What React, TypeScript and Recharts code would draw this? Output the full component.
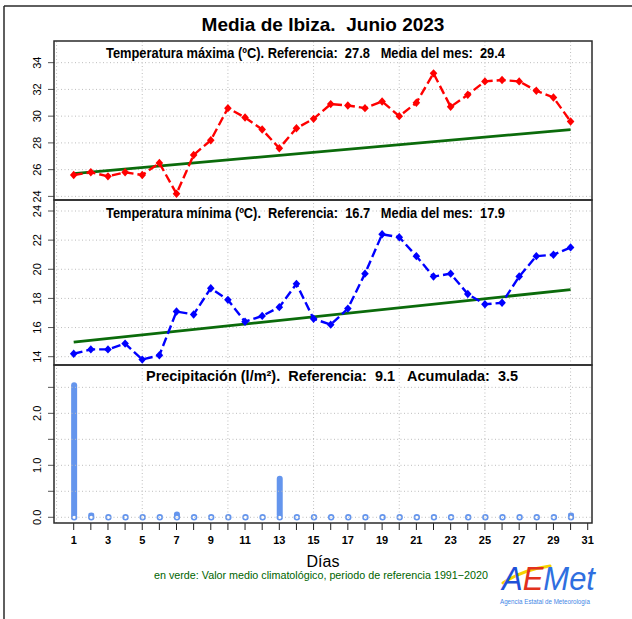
import {
  Bar,
  ComposedChart,
  Line,
  ReferenceLine,
  XAxis,
  YAxis,
} from 'recharts'

// Ibiza, June 2023: daily values.
const DAYS = [
  1, 2, 3, 4, 5, 6, 7, 8, 9, 10, 11, 12, 13, 14, 15,
  16, 17, 18, 19, 20, 21, 22, 23, 24, 25, 26, 27, 28, 29, 30,
]
const TMAX = [
  25.6, 25.8, 25.5, 25.8, 25.6, 26.5, 24.2, 27.1, 28.2, 30.6,
  29.9, 29.0, 27.6, 29.1, 29.8, 30.9, 30.8, 30.6, 31.1, 30.0,
  31.0, 33.2, 30.7, 31.6, 32.6, 32.7, 32.6, 31.9, 31.4, 29.6,
]
const TMIN = [
  14.2, 14.5, 14.5, 14.9, 13.8, 14.1, 17.1, 16.9, 18.7, 17.9,
  16.4, 16.8, 17.4, 19.0, 16.6, 16.2, 17.3, 19.7, 22.4, 22.2,
  20.9, 19.5, 19.7, 18.3, 17.6, 17.7, 19.5, 20.9, 21.0, 21.5,
]
// "Ip" (inapreciable) days are drawn as a tiny stub
const PRECIP = [
  2.6, 0.09, 0, 0, 0, 0, 0.11, 0, 0, 0,
  0, 0, 0.8, 0, 0, 0, 0, 0, 0, 0,
  0, 0, 0, 0, 0, 0, 0, 0, 0, 0.09,
]
// climatological reference 1991-2020 (straight line, first and last day)
const TMAX_REF = [25.7, 29.0]
const TMIN_REF = [15.0, 18.6]

const X_TICKS = [
  1, 2, 3, 4, 5, 6, 7, 8, 9, 10, 11, 12, 13, 14, 15, 16,
  17, 18, 19, 20, 21, 22, 23, 24, 25, 26, 27, 28, 29, 30, 31,
]
const X_GRID = [0, 5, 10, 15, 20, 25, 30]
const TMAX_TICKS = [24, 26, 28, 30, 32, 34]
const TMIN_TICKS = [14, 16, 18, 20, 22, 24]
const PRECIP_TICKS = [0, 0.5, 1, 1.5, 2, 2.5]

const X_DOMAIN: [number, number] = [-0.15, 31.25]
const FONT = '"Liberation Sans", Arial, Helvetica, sans-serif'
const RED = '#ff0000'
const BLUE = '#0000ff'
const GREEN = '#0b6b0b'
const RAIN = '#6495ed'
const GRID = '#bdbdbd'
const FRAME = '#2a2a2a'

const W = 632
const PLOT_LEFT = 54
const PLOT_RIGHT = 592
const MARGIN = { top: 10, right: W - PLOT_RIGHT, bottom: 10, left: 0 }

const tempRows = DAYS.map((day, i) => ({ day, tmax: TMAX[i], tmin: TMIN[i] }))
const rainRows = DAYS.map((day, i) => ({ day, precip: PRECIP[i] }))

function Diamond(props: any) {
  const { cx, cy, fill } = props
  if (cx == null || cy == null) return null
  return (
    <polygon
      points={`${cx},${cy - 4.2} ${cx + 3.8},${cy} ${cx},${cy + 4.2} ${cx - 3.8},${cy}`}
      fill={fill}
    />
  )
}

function RotatedTick(props: any) {
  const { x, y, payload, labels } = props
  const v = payload.value
  const text = labels ? (Number.isInteger(v) ? v.toFixed(1) : '') : String(v)
  const bx = x - 5
  return (
    <text
      x={bx}
      y={y}
      transform={`rotate(-90 ${bx} ${y})`}
      textAnchor="middle"
      fontSize={11}
      fontFamily={FONT}
      fill="#000"
    >
      {text}
    </text>
  )
}

function DayTick(props: any) {
  const { x, y, payload } = props
  const v = payload.value
  if (v % 2 === 0) return null
  return (
    <text x={x} y={y} dy="0.71em" textAnchor="middle" fontSize={11} fontWeight="bold" fontFamily={FONT} fill="#000">
      {v}
    </text>
  )
}

function RainShape(props: any) {
  const { x, y, width, height } = props
  const cx = x + width / 2
  const base = y + height
  return (
    <g>
      {height > 0.5 && (
        <rect x={x} y={y} width={width} height={height} rx={width / 2} ry={Math.min(width / 2, height / 2)} fill={RAIN} />
      )}
      <circle cx={cx} cy={base} r={2.4} fill="#fff" stroke={RAIN} strokeWidth={1.6} />
    </g>
  )
}

function gridLines(yTicks: number[]) {
  return [
    ...X_GRID.map((x) => (
      <ReferenceLine key={`gx${x}`} x={x} stroke={GRID} strokeDasharray="1 2.5" strokeWidth={1} />
    )),
    ...yTicks.map((y) => (
      <ReferenceLine key={`gy${y}`} y={y} stroke={GRID} strokeDasharray="1 2.5" strokeWidth={1} />
    )),
  ]
}

function TempPanel({
  dataKey,
  color,
  domain,
  ticks,
  refLine,
  top,
  height,
}: {
  dataKey: string
  color: string
  domain: [number, number]
  ticks: number[]
  refLine: number[]
  top: number
  height: number
}) {
  return (
    <div style={{ position: 'absolute', left: 0, top: top - MARGIN.top }}>
      <ComposedChart width={W} height={height + MARGIN.top + MARGIN.bottom} data={tempRows} margin={MARGIN}>
        <XAxis type="number" dataKey="day" domain={X_DOMAIN} allowDataOverflow hide />
        <YAxis
          type="number"
          domain={domain}
          ticks={ticks}
          allowDataOverflow
          width={PLOT_LEFT}
          axisLine={false}
          tickSize={6}
          tickLine={{ stroke: '#555' }}
          tick={<RotatedTick />}
          interval={0}
        />
        {gridLines(ticks)}
        <ReferenceLine
          segment={[
            { x: DAYS[0], y: refLine[0] },
            { x: DAYS[DAYS.length - 1], y: refLine[1] },
          ]}
          stroke={GREEN}
          strokeWidth={2.8}
        />
        <Line
          type="linear"
          dataKey={dataKey}
          stroke={color}
          strokeWidth={2.4}
          strokeDasharray="9 4"
          dot={<Diamond fill={color} />}
          activeDot={false}
          isAnimationActive={false}
        />
      </ComposedChart>
    </div>
  )
}

function RainPanel() {
  const top = 365
  const height = 158
  return (
    <div style={{ position: 'absolute', left: 0, top: top - MARGIN.top }}>
      <ComposedChart
        width={W}
        height={height + MARGIN.top + 32}
        data={rainRows}
        margin={{ ...MARGIN, bottom: 0 }}
      >
        <XAxis
          type="number"
          dataKey="day"
          domain={X_DOMAIN}
          ticks={X_TICKS}
          interval={0}
          allowDataOverflow
          axisLine={false}
          tickSize={7}
          tickMargin={6}
          tickLine={{ stroke: '#222' }}
          tick={<DayTick />}
          height={32}
        />
        <YAxis
          type="number"
          domain={[-0.11, 2.93]}
          ticks={PRECIP_TICKS}
          allowDataOverflow
          width={PLOT_LEFT}
          axisLine={false}
          tickSize={6}
          tickLine={{ stroke: '#555' }}
          tick={<RotatedTick labels />}
          interval={0}
        />
        {gridLines(PRECIP_TICKS)}
        <Bar dataKey="precip" barSize={6} shape={<RainShape />} isAnimationActive={false} />
      </ComposedChart>
    </div>
  )
}

export default function App() {
  return (
    <div
      style={{
        position: 'absolute',
        left: 0,
        top: 0,
        width: W,
        height: 619,
        background: '#fff',
        fontFamily: FONT,
        overflow: 'hidden',
      }}
    >
      <TempPanel dataKey="tmax" color={RED} domain={[23.73, 35.62]} ticks={TMAX_TICKS} refLine={TMAX_REF} top={41} height={159} />
      <TempPanel dataKey="tmin" color={BLUE} domain={[13.43, 24.755]} ticks={TMIN_TICKS} refLine={TMIN_REF} top={200} height={165} />
      <RainPanel />
      <svg
        width={W}
        height={619}
        style={{ position: 'absolute', left: 0, top: 0, pointerEvents: 'none' }}
        fontFamily={FONT}
      >
        <line x1={4} y1={6} x2={W} y2={6} stroke={FRAME} strokeWidth={1.5} />
        <line x1={4} y1={6} x2={4} y2={619} stroke={FRAME} strokeWidth={1.5} />

        <text x={323} y={31} textAnchor="middle" fontSize={19} fontWeight="bold" fill="#000">
          Media de Ibiza.{'\u00a0\u00a0'}Junio 2023
        </text>

        <rect x={PLOT_LEFT} y={41} width={PLOT_RIGHT - PLOT_LEFT} height={159} fill="none" stroke={FRAME} strokeWidth={1.5} />
        <rect x={PLOT_LEFT} y={200} width={PLOT_RIGHT - PLOT_LEFT} height={165} fill="none" stroke={FRAME} strokeWidth={1.5} />
        <rect x={PLOT_LEFT} y={365} width={PLOT_RIGHT - PLOT_LEFT} height={158} fill="none" stroke={FRAME} strokeWidth={1.5} />

        <text x={106} y={57.5} fontSize={14} fontWeight="bold" fill="#000" textLength={399} lengthAdjust="spacingAndGlyphs">
          Temperatura máxima (ºC). Referencia:{'\u00a0\u00a0'}27.8{'\u00a0\u00a0\u00a0'}Media del mes:{'\u00a0\u00a0'}29.4
        </text>
        <text x={106} y={217.5} fontSize={14} fontWeight="bold" fill="#000" textLength={399} lengthAdjust="spacingAndGlyphs">
          Temperatura mínima (ºC).{'\u00a0\u00a0'}Referencia:{'\u00a0\u00a0'}16.7{'\u00a0\u00a0\u00a0'}Media del mes:{'\u00a0\u00a0'}17.9
        </text>
        <text x={146} y={381} fontSize={14} fontWeight="bold" fill="#000" textLength={372} lengthAdjust="spacingAndGlyphs">
          Precipitación (l/m²).{'\u00a0\u00a0'}Referencia:{'\u00a0\u00a0'}9.1{'\u00a0\u00a0\u00a0'}Acumulada:{'\u00a0\u00a0'}3.5
        </text>

        <text x={323} y={566.5} textAnchor="middle" fontSize={16} fill="#000">
          Días
        </text>
        <text x={154} y={579} fontSize={11} fill="#006400" textLength={334} lengthAdjust="spacingAndGlyphs">
          en verde: Valor medio climatológico, periodo de referencia 1991−2020
        </text>

        <path d="M 503 583 Q 522 570 550 566" fill="none" stroke="#f5d300" strokeWidth={3} strokeLinecap="round" />
        <text x={502} y={590} fontSize={33} fontStyle="italic" textLength={93} lengthAdjust="spacingAndGlyphs">
          <tspan fill="#1e50d8">A</tspan>
          <tspan fill="#e2311d">E</tspan>
          <tspan fill="#2f6fe0">Met</tspan>
        </text>
        <text x={500} y={604} fontSize={7} fill="#3f86e6" textLength={90} lengthAdjust="spacingAndGlyphs">
          Agencia Estatal de Meteorología
        </text>
      </svg>
    </div>
  )
}
